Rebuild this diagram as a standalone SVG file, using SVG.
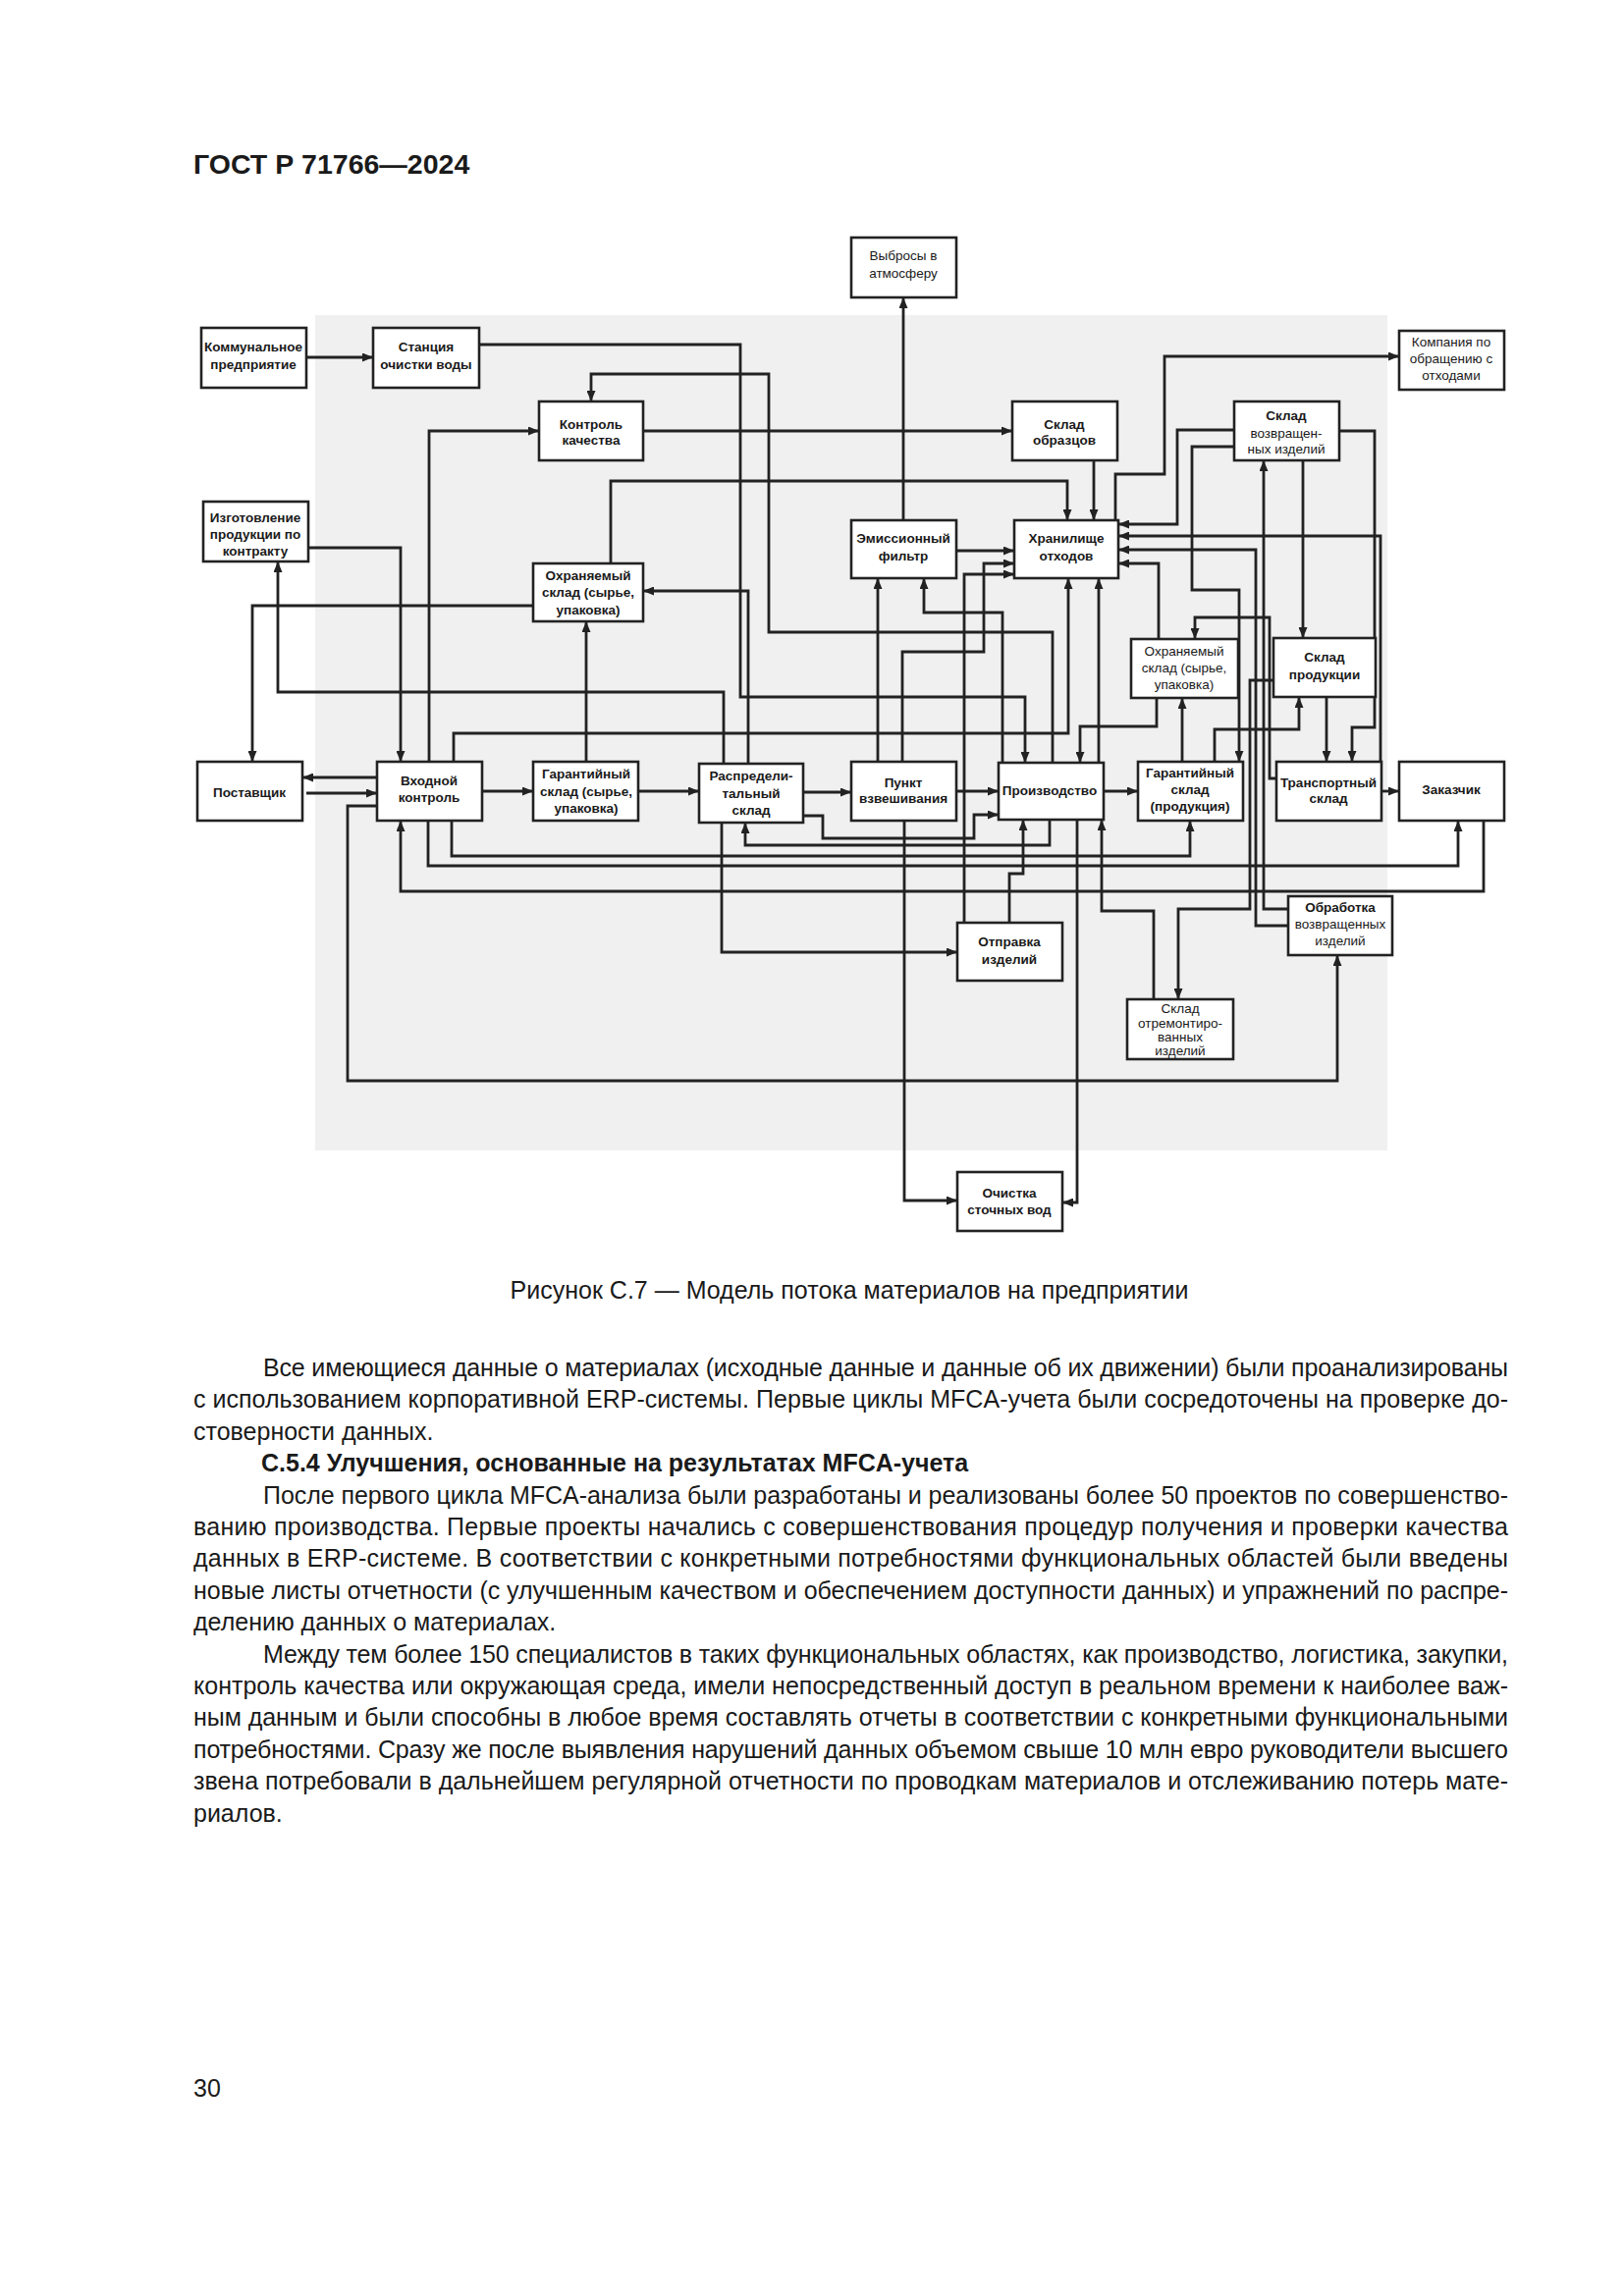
<svg xmlns="http://www.w3.org/2000/svg" width="1654" height="2339" viewBox="0 0 1654 2339">
<style>
.bg{fill:#f0f0f0}
.box{fill:#fff;stroke:#222;stroke-width:2.6}
.c{fill:none;stroke:#222;stroke-width:2.8;stroke-linejoin:miter}
.a{marker-end:url(#ah)}
.t{font-family:"Liberation Sans",Arial,sans-serif;font-size:13.5px;fill:#1a1a1a;text-anchor:middle}
.b{font-weight:bold}
.body{font-family:"Liberation Sans",Arial,sans-serif;font-size:25px;fill:#1a1a1a}
.hdr{font-family:"Liberation Sans",Arial,sans-serif;font-size:28.5px;font-weight:bold;fill:#1a1a1a}
</style>
<defs>
<marker id="ah" markerUnits="userSpaceOnUse" markerWidth="11" markerHeight="9" refX="11" refY="4.5" orient="auto">
<path d="M0,0 L11,4.5 L0,9 z" fill="#222"/>
</marker>
</defs>
<rect width="1654" height="2339" fill="#fff"/>
<text class="hdr" x="197" y="177">ГОСТ Р 71766—2024</text>
<rect class="bg" x="321" y="321" width="1092" height="851"/>

<g id="connectors">
<polyline class="c a" points="312,364 380,364"/>
<polyline class="c a" points="488,351 754,351 754,710 1044,710 1044,777"/>
<polyline class="c a" points="1072,777 1072,644 783,644 783,381 602,381 602,409"/>
<polyline class="c a" points="437,776 437,439 549,439"/>
<polyline class="c a" points="655,439 1031,439"/>
<polyline class="c a" points="1114,469 1114,530"/>
<polyline class="c a" points="622,574 622,490 1087,490 1087,530"/>
<polyline class="c a" points="920,530 920,303"/>
<polyline class="c a" points="974,561 1033,561"/>
<polyline class="c a" points="919,776 919,664 1002,664 1002,574 1033,574"/>
<polyline class="c a" points="982,940 982,585 1033,585"/>
<polyline class="c a" points="894,776 894,589"/>
<polyline class="c a" points="1021,777 1021,624 941,624 941,589"/>
<polyline class="c a" points="462,776 462,747 1088,747 1088,589"/>
<polyline class="c a" points="1119,777 1119,589"/>
<polyline class="c a" points="1136,530 1136,483 1186,483 1186,363 1425,363"/>
<polyline class="c a" points="1257,438 1199,438 1199,534 1139,534"/>
<polyline class="c a" points="1406,776 1406,546 1139,546"/>
<polyline class="c a" points="1312,943 1279,943 1279,560 1139,560"/>
<polyline class="c a" points="1180,651 1180,574 1139,574"/>
<polyline class="c a" points="1257,455 1214,455 1214,601 1262,601 1262,776"/>
<polyline class="c a" points="1364,439 1400,439 1400,741 1377,741 1377,776"/>
<polyline class="c a" points="1327,469 1327,650"/>
<polyline class="c a" points="1312,926 1287,926 1287,469"/>
<polyline class="c a" points="1300,793 1293,793 1293,629 1217,629 1217,651"/>
<polyline class="c a" points="1297,693 1273,693 1273,926 1200,926 1200,1018"/>
<polyline class="c a" points="1178,711 1178,740 1100,740 1100,777"/>
<polyline class="c a" points="1204,776 1204,711"/>
<polyline class="c a" points="1237,776 1237,743 1323,743 1323,710"/>
<polyline class="c a" points="1351,710 1351,776"/>
<polyline class="c a" points="1124,806 1159,806"/>
<polyline class="c a" points="1407,806 1425,806"/>
<polyline class="c a" points="460,836 460,872 1212,872 1212,836"/>
<polyline class="c a" points="436,836 436,882 1485,882 1485,836"/>
<polyline class="c a" points="1511,836 1511,908 408,908 408,836"/>
<polyline class="c a" points="384,792 308,792"/>
<polyline class="c a" points="312,808 384,808"/>
<polyline class="c a" points="384,821 354,821 354,1101 1362,1101 1362,973"/>
<polyline class="c a" points="543,617 257,617 257,776"/>
<polyline class="c a" points="314,558 408,558 408,776"/>
<polyline class="c a" points="737,778 737,705 283,705 283,572"/>
<polyline class="c a" points="762,778 762,602 655,602"/>
<polyline class="c a" points="597,776 597,633"/>
<polyline class="c a" points="491,806 543,806"/>
<polyline class="c a" points="650,806 712,806"/>
<polyline class="c a" points="818,807 867,807"/>
<polyline class="c a" points="974,806 1017,806"/>
<polyline class="c a" points="818,831 838,831 838,854 992,854 992,830 1017,830"/>
<polyline class="c a" points="1069,835 1069,861 759,861 759,838"/>
<polyline class="c a" points="735,838 735,970 975,970"/>
<polyline class="c a" points="1028,940 1028,890 1042,890 1042,835"/>
<polyline class="c a" points="921,836 921,1223 975,1223"/>
<polyline class="c a" points="1097,835 1097,1225 1082,1225"/>
<polyline class="c a" points="1175,1018 1175,928 1122,928 1122,835"/>
</g>

<g id="n1"><rect class="box" x="205" y="334" width="107" height="61"/><text class="t b" x="258"><tspan x="258" y="358">Коммунальное</tspan><tspan x="258" y="376">предприятие</tspan></text></g>
<g id="n2"><rect class="box" x="380" y="334" width="108" height="61"/><text class="t b"><tspan x="434" y="358">Станция</tspan><tspan x="434" y="376">очистки воды</tspan></text></g>
<g id="n3"><rect class="box" x="867" y="242" width="107" height="61"/><text class="t"><tspan x="920" y="265">Выбросы в</tspan><tspan x="920" y="283">атмосферу</tspan></text></g>
<g id="n4"><rect class="box" x="1425" y="337" width="107" height="60"/><text class="t"><tspan x="1478" y="353">Компания по</tspan><tspan x="1478" y="370">обращению с</tspan><tspan x="1478" y="387">отходами</tspan></text></g>
<g id="n5"><rect class="box" x="549" y="409" width="106" height="60"/><text class="t b"><tspan x="602" y="437">Контроль</tspan><tspan x="602" y="453">качества</tspan></text></g>
<g id="n6"><rect class="box" x="1031" y="409" width="107" height="60"/><text class="t b"><tspan x="1084" y="437">Склад</tspan><tspan x="1084" y="453">образцов</tspan></text></g>
<g id="n7"><rect class="box" x="1257" y="409" width="107" height="60"/><text class="t"><tspan class="b" x="1310" y="428">Склад</tspan><tspan x="1310" y="446">возвращен-</tspan><tspan x="1310" y="462">ных изделий</tspan></text></g>
<g id="n8"><rect class="box" x="207" y="511" width="107" height="61"/><text class="t b"><tspan x="260" y="532">Изготовление</tspan><tspan x="260" y="549">продукции по</tspan><tspan x="260" y="566">контракту</tspan></text></g>
<g id="n9"><rect class="box" x="543" y="574" width="112" height="59"/><text class="t b"><tspan x="599" y="591">Охраняемый</tspan><tspan x="599" y="608">склад (сырье,</tspan><tspan x="599" y="626">упаковка)</tspan></text></g>
<g id="n10"><rect class="box" x="867" y="530" width="107" height="59"/><text class="t b"><tspan x="920" y="553">Эмиссионный</tspan><tspan x="920" y="571">фильтр</tspan></text></g>
<g id="n11"><rect class="box" x="1033" y="530" width="106" height="59"/><text class="t b"><tspan x="1086" y="553">Хранилище</tspan><tspan x="1086" y="571">отходов</tspan></text></g>
<g id="n12"><rect class="box" x="1152" y="651" width="109" height="60"/><text class="t"><tspan x="1206" y="668">Охраняемый</tspan><tspan x="1206" y="685">склад (сырье,</tspan><tspan x="1206" y="702">упаковка)</tspan></text></g>
<g id="n13"><rect class="box" x="1297" y="650" width="104" height="60"/><text class="t b"><tspan x="1349" y="674">Склад</tspan><tspan x="1349" y="692">продукции</tspan></text></g>
<g id="n14"><rect class="box" x="201" y="776" width="107" height="60"/><text class="t b" x="254" y="812">Поставщик</text></g>
<g id="n15"><rect class="box" x="384" y="776" width="107" height="60"/><text class="t b"><tspan x="437" y="800">Входной</tspan><tspan x="437" y="817">контроль</tspan></text></g>
<g id="n16"><rect class="box" x="543" y="776" width="107" height="60"/><text class="t b"><tspan x="597" y="793">Гарантийный</tspan><tspan x="597" y="811">склад (сырье,</tspan><tspan x="597" y="828">упаковка)</tspan></text></g>
<g id="n17"><rect class="box" x="712" y="778" width="106" height="60"/><text class="t b"><tspan x="765" y="795">Распредели-</tspan><tspan x="765" y="813">тальный</tspan><tspan x="765" y="830">склад</tspan></text></g>
<g id="n18"><rect class="box" x="867" y="776" width="107" height="60"/><text class="t b"><tspan x="920" y="802">Пункт</tspan><tspan x="920" y="818">взвешивания</tspan></text></g>
<g id="n19"><rect class="box" x="1017" y="777" width="107" height="58"/><text class="t b" x="1069" y="810">Производство</text></g>
<g id="n20"><rect class="box" x="1159" y="776" width="107" height="60"/><text class="t b"><tspan x="1212" y="792">Гарантийный</tspan><tspan x="1212" y="809">склад</tspan><tspan x="1212" y="826">(продукция)</tspan></text></g>
<g id="n21"><rect class="box" x="1300" y="776" width="107" height="60"/><text class="t b"><tspan x="1353" y="802">Транспортный</tspan><tspan x="1353" y="818">склад</tspan></text></g>
<g id="n22"><rect class="box" x="1425" y="776" width="107" height="60"/><text class="t b" x="1478" y="809">Заказчик</text></g>
<g id="n23"><rect class="box" x="975" y="940" width="107" height="59"/><text class="t b"><tspan x="1028" y="964">Отправка</tspan><tspan x="1028" y="982">изделий</tspan></text></g>
<g id="n24"><rect class="box" x="1312" y="913" width="106" height="60"/><text class="t"><tspan class="b" x="1365" y="929">Обработка</tspan><tspan x="1365" y="946">возвращенных</tspan><tspan x="1365" y="963">изделий</tspan></text></g>
<g id="n25"><rect class="box" x="1148" y="1018" width="108" height="61"/><text class="t"><tspan x="1202" y="1032">Склад</tspan><tspan x="1202" y="1047">отремонтиро-</tspan><tspan x="1202" y="1061">ванных</tspan><tspan x="1202" y="1075">изделий</tspan></text></g>
<g id="n26"><rect class="box" x="975" y="1194" width="107" height="60"/><text class="t b"><tspan x="1028" y="1220">Очистка</tspan><tspan x="1028" y="1237">сточных вод</tspan></text></g>

<text class="body" x="865" y="1323" text-anchor="middle">Рисунок С.7 — Модель потока материалов на предприятии</text>

<text class="body" x="268" y="1402" textLength="1268" lengthAdjust="spacing">Все имеющиеся данные о материалах (исходные данные и данные об их движении) были проанализированы</text>
<text class="body" x="197" y="1434" textLength="1339" lengthAdjust="spacing">с использованием корпоративной ERP-системы. Первые циклы MFCA-учета были сосредоточены на проверке до-</text>
<text class="body" x="197" y="1467">стоверности данных.</text>
<text class="body b" x="266" y="1499">С.5.4 Улучшения, основанные на результатах MFCA-учета</text>
<text class="body" x="268" y="1532" textLength="1268" lengthAdjust="spacing">После первого цикла MFCA-анализа были разработаны и реализованы более 50 проектов по совершенство-</text>
<text class="body" x="197" y="1564" textLength="1339" lengthAdjust="spacing">ванию производства. Первые проекты начались с совершенствования процедур получения и проверки качества</text>
<text class="body" x="197" y="1596" textLength="1339" lengthAdjust="spacing">данных в ERP-системе. В соответствии с конкретными потребностями функциональных областей были введены</text>
<text class="body" x="197" y="1629" textLength="1339" lengthAdjust="spacing">новые листы отчетности (с улучшенным качеством и обеспечением доступности данных) и упражнений по распре-</text>
<text class="body" x="197" y="1661">делению данных о материалах.</text>
<text class="body" x="268" y="1694" textLength="1268" lengthAdjust="spacing">Между тем более 150 специалистов в таких функциональных областях, как производство, логистика, закупки,</text>
<text class="body" x="197" y="1726" textLength="1339" lengthAdjust="spacing">контроль качества или окружающая среда, имели непосредственный доступ в реальном времени к наиболее важ-</text>
<text class="body" x="197" y="1758" textLength="1339" lengthAdjust="spacing">ным данным и были способны в любое время составлять отчеты в соответствии с конкретными функциональными</text>
<text class="body" x="197" y="1791" textLength="1339" lengthAdjust="spacing">потребностями. Сразу же после выявления нарушений данных объемом свыше 10 млн евро руководители высшего</text>
<text class="body" x="197" y="1823" textLength="1339" lengthAdjust="spacing">звена потребовали в дальнейшем регулярной отчетности по проводкам материалов и отслеживанию потерь мате-</text>
<text class="body" x="197" y="1856">риалов.</text>

<text class="body" x="197" y="2136">30</text>
</svg>
